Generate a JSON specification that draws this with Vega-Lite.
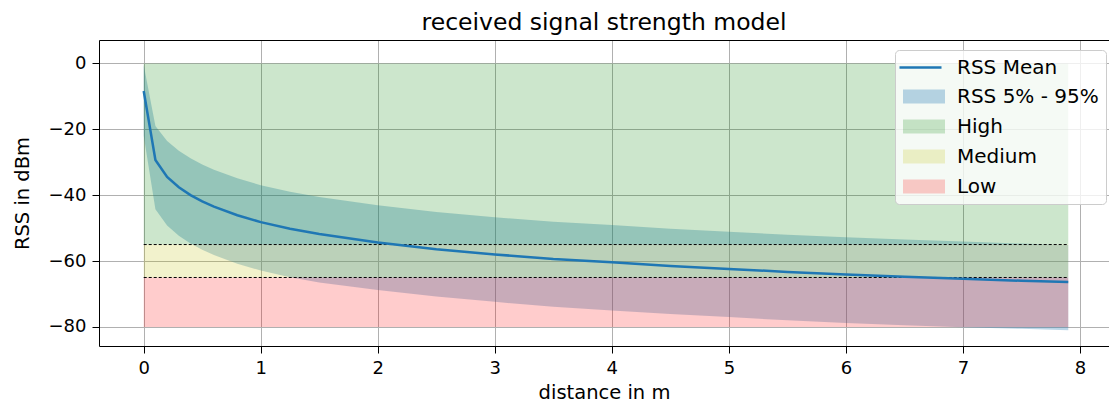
{
  "$schema": "https://vega.github.io/schema/vega-lite/v6.json",
  "width": 1010,
  "height": 306,
  "autosize": {"type": "none"},
  "padding": {"left": 99, "top": 40, "right": 0, "bottom": 59},
  "background": "white",
  "config": {
    "font": "DejaVu Sans",
    "view": {"stroke": null},
    "axis": {
      "domainColor": "#000000",
      "domainWidth": 1,
      "tickColor": "#000000",
      "tickSize": 7,
      "tickWidth": 1,
      "gridColor": "#b0b0b0",
      "gridWidth": 1,
      "labelFont": "DejaVu Sans",
      "labelFontSize": 18,
      "labelColor": "#000000",
      "titleFont": "DejaVu Sans",
      "titleFontSize": 19.5,
      "titleFontWeight": "normal",
      "titleColor": "#000000",
      "zindex": 1,
      "labelPadding": 6
    }
  },
  "title": {
    "text": "received signal strength model",
    "font": "DejaVu Sans",
    "fontSize": 23.5,
    "fontWeight": "normal",
    "color": "#000000",
    "anchor": "middle",
    "baseline": "alphabetic",
    "offset": 13,
    "dy": 26
  },
  "datasets": {
    "zones": [
      {"series": "High", "x_start": 0, "x_end": 7.9, "upper": 0, "lower": -55},
      {"series": "Medium", "x_start": 0, "x_end": 7.9, "upper": -55, "lower": -65},
      {"series": "Low", "x_start": 0, "x_end": 7.9, "upper": -65, "lower": -80}
    ],
    "thresholds": [
      {"level": -55},
      {"level": -65}
    ],
    "rss": [
      {"distance": 0, "mean": -8.4, "upper": -0.5, "lower": -22.0},
      {"distance": 0.1, "mean": -29.3, "upper": -19.0, "lower": -44.3},
      {"distance": 0.2, "mean": -34.5, "upper": -23.6, "lower": -49.2},
      {"distance": 0.3, "mean": -37.6, "upper": -26.5, "lower": -52.3},
      {"distance": 0.4, "mean": -40.0, "upper": -28.8, "lower": -54.7},
      {"distance": 0.5, "mean": -41.9, "upper": -30.7, "lower": -56.6},
      {"distance": 0.6, "mean": -43.5, "upper": -32.3, "lower": -58.2},
      {"distance": 0.8, "mean": -46.1, "upper": -34.9, "lower": -60.8},
      {"distance": 1.0, "mean": -48.2, "upper": -37.0, "lower": -62.9},
      {"distance": 1.25, "mean": -50.2, "upper": -39.0, "lower": -64.9},
      {"distance": 1.5, "mean": -51.8, "upper": -40.6, "lower": -66.5},
      {"distance": 2.0, "mean": -54.4, "upper": -43.1, "lower": -68.8},
      {"distance": 2.5, "mean": -56.4, "upper": -45.1, "lower": -70.8},
      {"distance": 3.0, "mean": -58.0, "upper": -46.7, "lower": -72.4},
      {"distance": 3.5, "mean": -59.4, "upper": -48.1, "lower": -73.9},
      {"distance": 4.0, "mean": -60.4, "upper": -49.1, "lower": -75.0},
      {"distance": 4.5, "mean": -61.5, "upper": -50.2, "lower": -76.1},
      {"distance": 5.0, "mean": -62.4, "upper": -51.1, "lower": -77.0},
      {"distance": 5.5, "mean": -63.3, "upper": -52.0, "lower": -78.0},
      {"distance": 6.0, "mean": -64.1, "upper": -52.8, "lower": -78.8},
      {"distance": 6.5, "mean": -64.8, "upper": -53.5, "lower": -79.5},
      {"distance": 7.0, "mean": -65.4, "upper": -54.1, "lower": -80.1},
      {"distance": 7.5, "mean": -66.0, "upper": -54.7, "lower": -80.6},
      {"distance": 7.9, "mean": -66.4, "upper": -55.1, "lower": -81.0}
    ]
  },
  "resolve": {"axis": {"x": "independent"}},
  "layer": [
    {
      "data": {"name": "rss"},
      "mark": {"type": "area", "opacity": 1},
      "encoding": {
        "x": {
          "field": "distance", "type": "quantitative",
          "scale": {"domain": [-0.382, 8.248], "nice": false, "zero": false},
          "axis": {"values": [0, 1, 2, 3, 4, 5, 6, 7, 8], "format": "d", "labelFlush": false, "labelOverlap": false, "title": "distance in m", "titleY": 52, "titleBaseline": "alphabetic", "grid": true}
        },
        "y": {
          "field": "upper", "type": "quantitative",
          "scale": {"domain": [-85.8, 7.1], "nice": false, "zero": false},
          "title": "RSS in dBm",
          "axis": {"values": [-80, -60, -40, -20, 0], "labelFlush": false, "labelOverlap": false, "labelExpr": "replace(datum.label, '-', '\u2212')", "titleX": -77, "titleY": 153, "titleBaseline": "middle", "titleAngle": -90, "grid": true}
        },
        "y2": {"field": "lower"},
        "fill": {
          "datum": "RSS 5% - 95%", "type": "nominal",
          "scale": {
            "domain": ["RSS 5% - 95%", "High", "Medium", "Low"],
            "range": ["rgba(31,119,180,0.3)", "rgba(0,128,0,0.2)", "rgba(191,191,0,0.2)", "rgba(255,0,0,0.2)"]
          },
          "legend": {
            "title": " ",
            "titleFontSize": 20,
            "titlePadding": 9.5,
            "orient": "none",
            "legendX": 796,
            "legendY": 10,
            "labelFont": "DejaVu Sans",
            "labelFontSize": 20,
            "labelColor": "#000000",
            "symbolType": "M-3,-1H3V1H-3Z",
            "symbolSize": 196,
            "symbolStrokeWidth": 0,
            "symbolOpacity": 1,
            "symbolOffset": 12,
            "labelOffset": 23,
            "rowPadding": 10,
            "padding": 7,
            "fillColor": "rgba(255,255,255,0.8)",
            "strokeColor": "#cccccc",
            "cornerRadius": 4,
            "zindex": 0
          }
        }
      }
    },
    {
      "data": {"name": "zones"},
      "mark": {"type": "rect", "opacity": 1},
      "encoding": {
        "x": {"field": "x_start", "type": "quantitative", "scale": {"domain": [-0.382, 8.248], "nice": false, "zero": false}, "axis": null},
        "x2": {"field": "x_end"},
        "y": {"field": "upper", "type": "quantitative", "scale": {"domain": [-85.8, 7.1], "nice": false, "zero": false}, "title": "RSS in dBm"},
        "y2": {"field": "lower"},
        "fill": {
          "field": "series", "type": "nominal",
          "legend": {
            "title": " ",
            "titleFontSize": 20,
            "titlePadding": 9.5,
            "orient": "none",
            "legendX": 796,
            "legendY": 10,
            "labelFont": "DejaVu Sans",
            "labelFontSize": 20,
            "labelColor": "#000000",
            "symbolType": "M-3,-1H3V1H-3Z",
            "symbolSize": 196,
            "symbolStrokeWidth": 0,
            "symbolOpacity": 1,
            "symbolOffset": 12,
            "labelOffset": 23,
            "rowPadding": 10,
            "padding": 7,
            "fillColor": "rgba(255,255,255,0.8)",
            "strokeColor": "#cccccc",
            "cornerRadius": 4,
            "zindex": 0
          }
        }
      }
    },
    {
      "data": {"name": "thresholds"},
      "mark": {"type": "rule", "color": "#000000", "strokeWidth": 1, "strokeDash": [3, 2]},
      "encoding": {
        "x": {"datum": 0, "type": "quantitative", "scale": {"domain": [-0.382, 8.248], "nice": false, "zero": false}, "axis": null},
        "x2": {"datum": 7.9},
        "y": {"field": "level", "type": "quantitative", "scale": {"domain": [-85.8, 7.1], "nice": false, "zero": false}, "title": "RSS in dBm"}
      }
    },
    {
      "data": {"name": "rss"},
      "mark": {"type": "line", "strokeWidth": 2.5, "opacity": 1},
      "encoding": {
        "x": {"field": "distance", "type": "quantitative", "scale": {"domain": [-0.382, 8.248], "nice": false, "zero": false}, "axis": {"orient": "top", "labels": false, "ticks": false, "grid": false, "domain": true, "title": null}},
        "y": {"field": "mean", "type": "quantitative", "scale": {"domain": [-85.8, 7.1], "nice": false, "zero": false}, "title": "RSS in dBm"},
        "stroke": {
          "datum": "RSS Mean", "type": "nominal",
          "scale": {"domain": ["RSS Mean"], "range": ["#1f77b4"]},
          "legend": {
            "title": null,
            "orient": "none",
            "legendX": 799,
            "legendY": 5,
            "labelFont": "DejaVu Sans",
            "labelFontSize": 20,
            "labelColor": "#000000",
            "symbolType": "stroke",
            "symbolSize": 1764,
            "symbolStrokeWidth": 2.5,
            "symbolOpacity": 1,
            "symbolOffset": 0,
            "labelOffset": 14,
            "padding": 0,
            "zindex": 1
          }
        }
      }
    }
  ]
}
